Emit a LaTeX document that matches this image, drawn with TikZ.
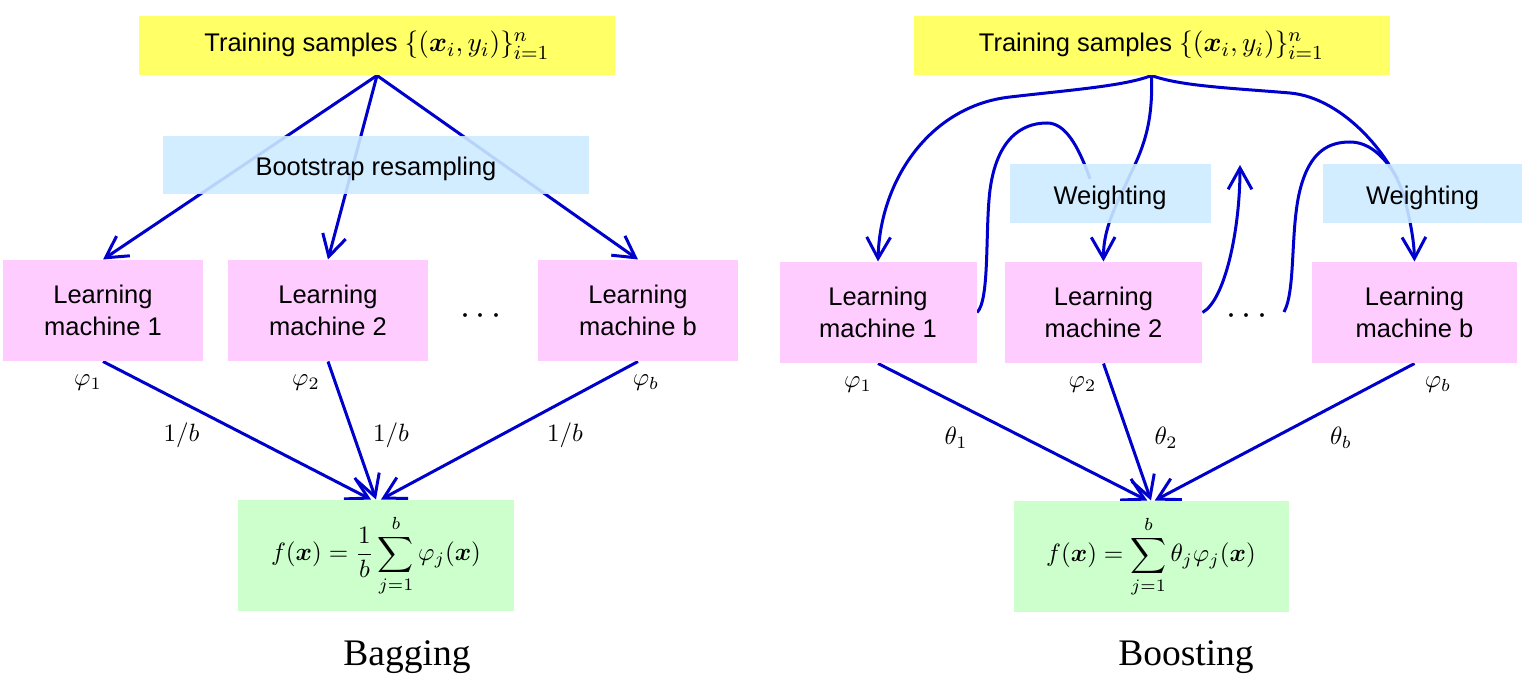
\documentclass[tikz,border=0pt]{standalone}
\usepackage[no-math]{fontspec}
\setmainfont{Liberation Serif}
\setsansfont{Liberation Sans}
\usepackage{amsmath,bm}
\usetikzlibrary{arrows.meta,backgrounds}

\definecolor{sampleyellow}{RGB}{255,255,102}
\definecolor{weightblue}{RGB}{204,235,255}
\definecolor{machinepink}{RGB}{255,204,255}
\definecolor{resultgreen}{RGB}{204,255,204}
\definecolor{linkblue}{RGB}{0,0,204}

\newcommand{\samples}{Training samples {\fontsize{10.95}{13}\selectfont$\{(\bm{x}_i,y_i)\}_{i=1}^{n}$}}

\begin{document}
\begin{tikzpicture}[x=0.4pt,y=-0.4pt,
					box/.style={inner sep=0pt,align=center,
						font=\sffamily\fontsize{10.2}{12.7}\selectfont},
					sample node/.style={box,fill=sampleyellow,minimum width=190.4pt,minimum height=23.6pt},
					weight node/.style={box,fill=weightblue,fill opacity=0.9,text opacity=1,
						minimum height=23.4pt,text height=8.5pt,text depth=0pt},
					machine node/.style={box,fill=machinepink,minimum width=80pt,minimum height=40.4pt},
					result node/.style={box,fill=resultgreen,minimum width=110pt,minimum height=44.4pt},
					caption/.style={font=\fontsize{15}{18}\selectfont},
					link/.style={draw=linkblue,line width=1.2pt},
					arrow/.style={link,-{Straight Barb[length=8.5pt,width=9.5pt]}}]

  \useasboundingbox (0,0) rectangle (1529,686);

  % bagging
  \node[sample node] (S1) at (377,45.5) {\samples};
  \node[weight node,minimum width=170pt,minimum height=23.2pt] (R) at (376,165) {Bootstrap resampling};
  \node[machine node] (B1) at (103,310.5) {Learning\\machine 1};
  \node[machine node] (B2) at (328,310.5) {Learning\\machine 2};
  \node[machine node] (Bb) at (638,310.5) {Learning\\machine b};
  \node (Bdots) at (484,317) {\fontsize{13.5}{16}\selectfont$\cdots$};
  \node[result node] (G1) at (376,555.5)
    {$\displaystyle f(\bm{x})=\frac{1}{b}\sum_{j=1}^{b}\varphi_j(\bm{x})$};
  \node[caption] (bag) at (407,657) {Bagging};

  \node (p1) at (88,383) {$\varphi_1$};
  \node (p2) at (306,383) {$\varphi_2$};
  \node (pb) at (646,383) {$\varphi_b$};
  \node (w1) at (181.5,435) {$1/b$};
  \node (w2) at (391,435) {$1/b$};
  \node (wb) at (565,435) {$1/b$};

  % boosting
  \node[sample node] (S2) at (1151.5,45.5) {\samples};
  \node[weight node,minimum width=80.4pt] (W1) at (1110,193.5) {Weighting};
  \node[weight node,minimum width=79.6pt] (W2) at (1422.5,193.5) {Weighting};
  \node[machine node,minimum width=78.8pt] (M1) at (878,312.5) {Learning\\machine 1};
  \node[machine node,minimum width=78.8pt] (M2) at (1103.5,312.5) {Learning\\machine 2};
  \node[machine node,minimum width=82pt] (Mb) at (1414.5,312.5) {Learning\\machine b};
  \node (Mdots) at (1250,317) {\fontsize{13.5}{16}\selectfont$\cdots$};
  \node[result node] (G2) at (1151,556.5)
    {$\displaystyle f(\bm{x})=\sum_{j=1}^{b}\theta_j\varphi_j(\bm{x})$};
  \node[caption] (boost) at (1186,657) {Boosting};

  \node (q1) at (858,385) {$\varphi_1$};
  \node (q2) at (1082.5,385) {$\varphi_2$};
  \node (qb) at (1438,385) {$\varphi_b$};
  \node (t1) at (956,438) {$\theta_1$};
  \node (t2) at (1166,438) {$\theta_2$};
  \node (tb) at (1341,438) {$\theta_b$};

  \coordinate (next) at (1240,165);
  \coordinate (prev) at (1284,312);

  \begin{scope}[on background layer]
  \path[every edge/.style={arrow}]
    (S1.south) edge (B1.north)
               edge (B2.north)
               edge (Bb.north)
    (B1.south) edge ([xshift=-2pt]G1.north)
    (B2.south) edge (G1.north)
    (Bb.south) edge ([xshift=2pt]G1.north)
    (M1.south) edge ([xshift=-1.5pt]G2.north)
    (M2.south) edge (G2.north)
    (Mb.south) edge ([xshift=1.5pt]G2.north);

  \draw[arrow] (S2.south) .. controls (1125,86) and (1070,90) .. (1010,97)
    .. controls (930,106) and (880,180) .. (M1.north);
  \draw[arrow] (S2.south) .. controls (1153,120) and (1145,145) .. (1130,175)
    .. controls (1121,196) and (1103,225) .. (M2.north);
  \draw[arrow] (S2.south) .. controls (1180,86) and (1230,88) .. (1290,93)
    .. controls (1345,98) and (1395,160) .. (1405,200)
    .. controls (1410,220) and (1414,240) .. (Mb.north);

  % feedback to the next weighting
  \draw[link] (M1.east) .. controls (990,300) and (985,230) .. (990,190)
    .. controls (998,130) and (1030,123) .. (1047,123)
    .. controls (1065,123) and (1078,145) .. ([xshift=-8pt,yshift=-6pt]W1.north);
  \draw[arrow] (M2.east) .. controls (1225,300) and (1240,230) .. (next);
  \draw[link] (prev) .. controls (1296,290) and (1290,230) .. (1300,190)
    .. controls (1310,150) and (1330,142) .. (1350,142)
    .. controls (1368,142) and (1384,155) .. ([xshift=-10pt,yshift=-6pt]W2.north);
  \end{scope}
\end{tikzpicture}
\end{document}
